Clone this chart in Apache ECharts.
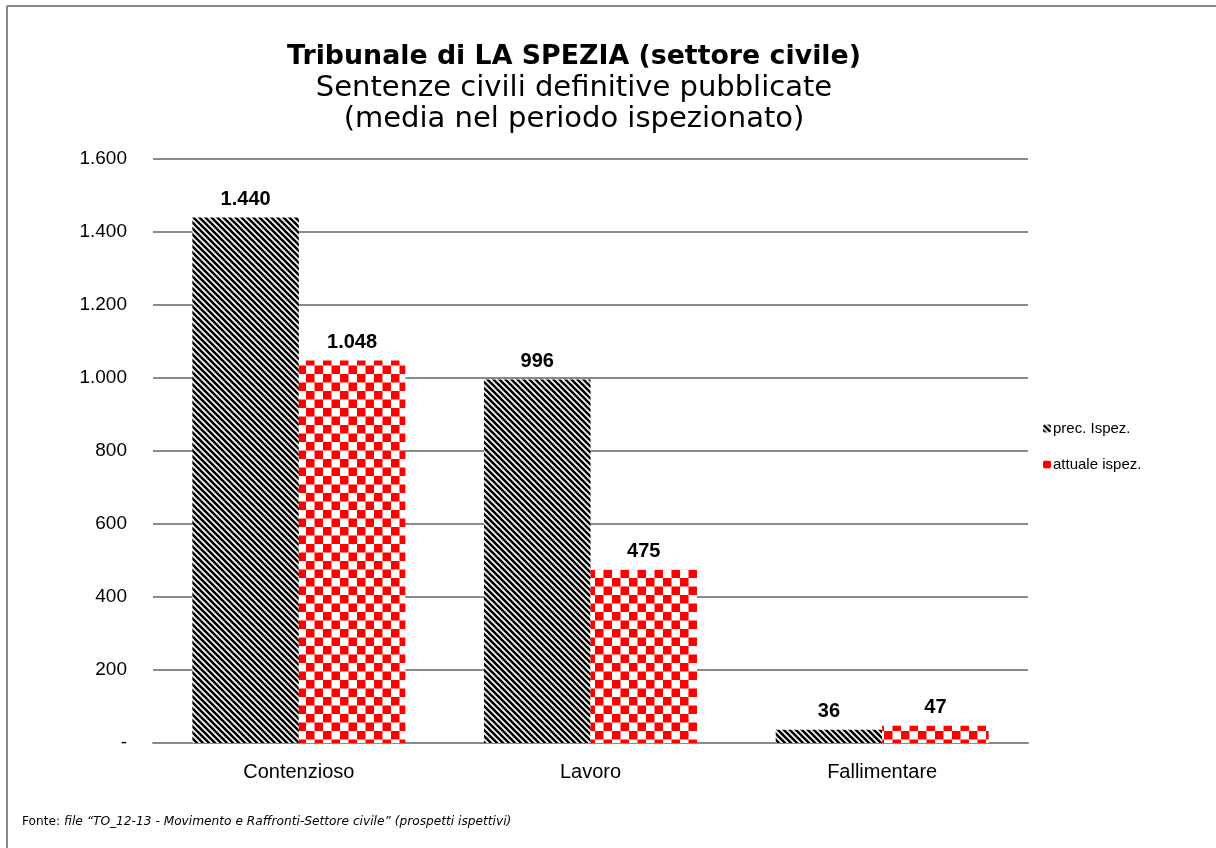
<!DOCTYPE html>
<html>
<head>
<meta charset="utf-8">
<script src="https://cdn.jsdelivr.net/npm/echarts@6/dist/echarts.min.js"></script>
<style>
  html, body { margin: 0; padding: 0; background: #fff; }
  #chart { width: 1216px; height: 848px; }
</style>
</head>
<body>
<div id="chart"></div>
<script>
const categories = ['Contenzioso', 'Lavoro', 'Fallimentare'];
const precIspez = [1440, 996, 36];
const attualeIspez = [1048, 475, 47];
const seriesNames = ['prec. Ispez.', 'attuale ispez.'];

// numeri con punto come separatore delle migliaia
function fmt(v) {
  if (v === 0) return '-';
  return String(v).replace(/\B(?=(\d{3})+(?!\d))/g, '.');
}

// tratteggio diagonale nero
function stripePattern() {
  const c = document.createElement('canvas');
  c.width = 6; c.height = 6;
  const ctx = c.getContext('2d');
  ctx.fillStyle = '#fff';
  ctx.fillRect(0, 0, 6, 6);
  ctx.strokeStyle = '#000';
  ctx.lineWidth = 2.6;
  ctx.beginPath();
  ctx.moveTo(-3, -3); ctx.lineTo(9, 9);
  ctx.moveTo(-3, 3); ctx.lineTo(3, 9);
  ctx.moveTo(3, -3); ctx.lineTo(9, 3);
  ctx.stroke();
  return c;
}

// scacchiera rossa
function checkerPattern() {
  const s = 8.5;
  const c = document.createElement('canvas');
  c.width = s * 2; c.height = s * 2;
  const ctx = c.getContext('2d');
  ctx.fillStyle = '#fff';
  ctx.fillRect(0, 0, s * 2, s * 2);
  ctx.fillStyle = '#ff0000';
  ctx.fillRect(0, 0, s, s);
  ctx.fillRect(s, s, s, s);
  return c;
}

const chart = echarts.init(document.getElementById('chart'));

const labelStyle = {
  show: true,
  position: 'top',
  distance: 8,
  fontFamily: 'Liberation Sans',
  fontWeight: 'bold',
  fontSize: 20,
  color: '#000',
  formatter: p => fmt(p.value)
};

const option = {
  animation: false,
  backgroundColor: '#fff',
  grid: { left: 153, right: 188, top: 159, bottom: 105 },
  legend: {
    orient: 'vertical',
    left: 1038,
    top: 416,
    itemWidth: 8,
    itemHeight: 8,
    itemGap: 21,
    data: seriesNames,
    textStyle: { fontFamily: 'Liberation Sans', fontSize: 15, color: '#000', padding: [0, 0, 0, -3] }
  },
  xAxis: {
    type: 'category',
    data: categories,
    axisLine: { lineStyle: { color: '#8a8a8a', width: 2 } },
    axisTick: { show: false },
    axisLabel: { fontFamily: 'Liberation Sans', fontSize: 20, color: '#000', margin: 19 }
  },
  yAxis: {
    type: 'value',
    min: 0,
    max: 1600,
    interval: 200,
    axisLine: { show: false },
    axisTick: { show: false },
    splitLine: { lineStyle: { color: '#8a8a8a', width: 2 } },
    axisLabel: { fontFamily: 'Liberation Sans', fontSize: 19, color: '#000', margin: 26, formatter: fmt }
  },
  series: [
    {
      name: seriesNames[0],
      type: 'bar',
      data: precIspez,
      barGap: '0%',
      barCategoryGap: '27%',
      itemStyle: { color: { image: stripePattern(), repeat: 'repeat' } },
      label: labelStyle
    },
    {
      name: seriesNames[1],
      type: 'bar',
      data: attualeIspez,
      itemStyle: { color: { image: checkerPattern(), repeat: 'repeat' } },
      label: labelStyle
    }
  ],
  graphic: [
    { type: 'line', shape: { x1: 7, y1: 6, x2: 1216, y2: 6 }, style: { stroke: '#8a8a8a', lineWidth: 2 } },
    { type: 'line', shape: { x1: 7, y1: 6, x2: 7, y2: 848 }, style: { stroke: '#8a8a8a', lineWidth: 2 } },
    {
      type: 'text', x: 574, y: 41,
      style: {
        text: '{b|Tribunale di LA SPEZIA (settore civile)}\n{n|Sentenze civili definitive pubblicate}\n{n|(media nel periodo ispezionato)}',
        textAlign: 'center',
        rich: {
          b: { fontFamily: 'DejaVu Sans', fontWeight: 'bold', fontSize: 26.8, lineHeight: 31.5, fill: '#000', align: 'center' },
          n: { fontFamily: 'DejaVu Sans', fontSize: 29, lineHeight: 31.5, fill: '#000', align: 'center' }
        }
      }
    },
    {
      type: 'text', x: 22, y: 816,
      style: {
        text: '{n|Fonte: }{i|file “TO_12-13 - Movimento e Raffronti-Settore civile” (prospetti ispettivi)}',
        rich: {
          n: { fontFamily: 'DejaVu Sans', fontSize: 12.2, fill: '#000' },
          i: { fontFamily: 'DejaVu Sans', fontStyle: 'italic', fontSize: 12.2, fill: '#000' }
        }
      }
    }
  ]
};

chart.setOption(option);
</script>
</body>
</html>
